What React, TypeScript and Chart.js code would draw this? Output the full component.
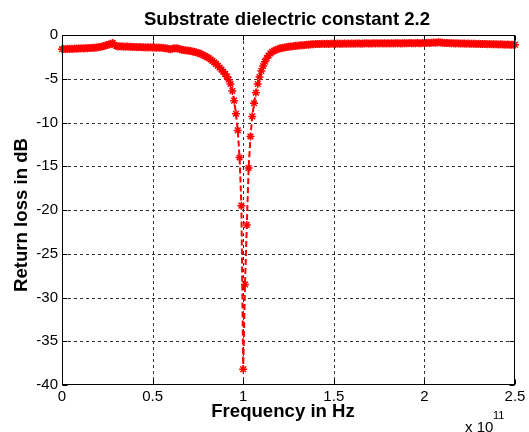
import React, { useEffect, useRef } from "react";
import { Chart, registerables } from "chart.js";

Chart.register(...registerables);

// Frequency sampling (GHz): start and step of the sweep
const FREQ_START_GHZ = 0;
const FREQ_STEP_GHZ = 1;

// Return loss in dB, one value per sample (0 .. 250 GHz)
const returnLossDb: number[] = [
  -1.62, -1.60, -1.63, -1.58, -1.61, -1.57, -1.59, -1.55, -1.57, -1.53,
  -1.55, -1.52, -1.54, -1.50, -1.51, -1.48, -1.49, -1.46, -1.47, -1.43,
  -1.41, -1.37, -1.32, -1.27, -1.21, -1.15, -1.08, -1.00, -0.90, -1.12,
  -1.26, -1.30, -1.28, -1.32, -1.30, -1.34, -1.32, -1.35, -1.33, -1.36,
  -1.38, -1.36, -1.40, -1.38, -1.41, -1.39, -1.42, -1.40, -1.43, -1.41,
  -1.44, -1.42, -1.45, -1.43, -1.46, -1.45, -1.48, -1.50, -1.55, -1.60,
  -1.63, -1.58, -1.52, -1.50, -1.55, -1.62, -1.68, -1.72, -1.75, -1.78,
  -1.80, -1.84, -1.88, -1.92, -1.98, -2.05, -2.12, -2.20, -2.30, -2.40,
  -2.52, -2.65, -2.80, -2.95, -3.12, -3.30, -3.50, -3.72, -3.95, -4.20,
  -4.45, -4.75, -5.10, -5.60, -6.40, -7.50, -9.00, -10.9, -14.0, -19.5,
  -38.2, -28.5, -21.7, -15.2, -11.6, -9.30, -7.80, -6.60, -5.60, -4.80,
  -4.10, -3.55, -3.05, -2.65, -2.35, -2.10, -1.92, -1.80, -1.70, -1.62,
  -1.55, -1.50, -1.45, -1.42, -1.38, -1.35, -1.32, -1.30, -1.26, -1.24,
  -1.22, -1.20, -1.18, -1.16, -1.14, -1.12, -1.10, -1.08, -1.06, -1.05,
  -1.03, -1.04, -1.02, -1.03, -1.01, -1.02, -1.00, -1.02, -0.99, -1.01,
  -1.00, -1.02, -0.98, -1.00, -0.99, -1.01, -0.97, -0.99, -0.98, -1.00,
  -0.97, -0.99, -0.96, -0.98, -0.97, -0.99, -0.96, -0.98, -0.95, -0.97,
  -0.96, -0.98, -0.95, -0.97, -0.94, -0.96, -0.95, -0.97, -0.94, -0.96,
  -0.95, -0.96, -0.94, -0.96, -0.93, -0.95, -0.94, -0.96, -0.93, -0.95,
  -0.94, -0.95, -0.92, -0.94, -0.93, -0.95, -0.92, -0.94, -0.93, -0.92,
  -0.90, -0.92, -0.89, -0.91, -0.88, -0.86, -0.89, -0.85, -0.83, -0.86,
  -0.88, -0.90, -0.92, -0.91, -0.93, -0.95, -0.94, -0.96, -0.95, -0.97,
  -0.96, -0.98, -0.97, -0.99, -0.98, -1.00, -0.99, -1.01, -1.00, -1.02,
  -1.01, -1.03, -1.02, -1.04, -1.03, -1.05, -1.04, -1.06, -1.05, -1.07,
  -1.06, -1.08, -1.07, -1.09, -1.08, -1.10, -1.09, -1.11, -1.10, -1.12,
  -1.10,
];

// Axis ticks (x in units of 1e11 Hz)
const xTicks = [0, 0.5, 1, 1.5, 2, 2.5];
const yTicks = [0, -5, -10, -15, -20, -25, -30, -35, -40];

const TITLE = "Substrate dielectric constant 2.2";
const X_LABEL = "Frequency in Hz";
const Y_LABEL = "Return loss in dB";
const X_EXP_BASE = "x 10";
const X_EXP_POWER = "11";

export default function App() {
  const canvasRef = useRef<HTMLCanvasElement | null>(null);

  useEffect(() => {
    if (!canvasRef.current) return;
    const points = returnLossDb.map((v, i) => ({
      x: (FREQ_START_GHZ + i * FREQ_STEP_GHZ) / 100,
      y: v,
    }));

    const decor = {
      id: "matlabDecor",
      beforeDatasetsDraw(chart: any) {
        const { ctx, chartArea: a, scales } = chart;
        ctx.save();
        ctx.strokeStyle = "#333";
        ctx.lineWidth = 1;
        ctx.setLineDash([3, 3]);
        for (const t of xTicks) {
          if (t === xTicks[0] || t === xTicks[xTicks.length - 1]) continue;
          const px = Math.round(scales.x.getPixelForValue(t)) + 0.5;
          ctx.beginPath();
          ctx.moveTo(px, a.top);
          ctx.lineTo(px, a.bottom);
          ctx.stroke();
        }
        for (const t of yTicks) {
          if (t === yTicks[0] || t === yTicks[yTicks.length - 1]) continue;
          const py = Math.round(scales.y.getPixelForValue(t)) + 0.5;
          ctx.beginPath();
          ctx.moveTo(a.left, py);
          ctx.lineTo(a.right, py);
          ctx.stroke();
        }
        ctx.restore();
      },
      afterDraw(chart: any) {
        const { ctx, chartArea: a, scales } = chart;
        ctx.save();
        ctx.setLineDash([]);
        ctx.strokeStyle = "#000";
        ctx.lineWidth = 1;
        const L = Math.round(a.left) + 0.5;
        const R = Math.round(a.right) - 0.5;
        const T = Math.round(a.top) + 0.5;
        const B = Math.round(a.bottom) - 0.5;
        ctx.strokeRect(L, T, R - L, B - T);
        const tl = 5;
        for (const t of xTicks) {
          const px = Math.round(scales.x.getPixelForValue(t)) + 0.5;
          ctx.beginPath();
          ctx.moveTo(px, B);
          ctx.lineTo(px, B - tl);
          ctx.moveTo(px, T);
          ctx.lineTo(px, T + tl);
          ctx.stroke();
        }
        for (const t of yTicks) {
          const py = Math.round(scales.y.getPixelForValue(t)) + 0.5;
          ctx.beginPath();
          ctx.moveTo(L, py);
          ctx.lineTo(L + tl, py);
          ctx.moveTo(R, py);
          ctx.lineTo(R - tl, py);
          ctx.stroke();
        }

        ctx.fillStyle = "#000";
        ctx.textAlign = "center";
        ctx.textBaseline = "alphabetic";
        ctx.font = "bold 18.6px Arial, 'Liberation Sans', sans-serif";
        ctx.fillText(TITLE, 287, 25);
        ctx.fillText(X_LABEL, 283, 417);

        ctx.save();
        ctx.translate(27, 215);
        ctx.rotate(-Math.PI / 2);
        ctx.fillText(Y_LABEL, 0, 0);
        ctx.restore();

        ctx.textAlign = "left";
        ctx.font = "15px Arial, 'Liberation Sans', sans-serif";
        ctx.fillText(X_EXP_BASE, 465, 432);
        ctx.font = "11px Arial, 'Liberation Sans', sans-serif";
        ctx.fillText(X_EXP_POWER, 493, 419);
        ctx.restore();
      },
    };

    const chart = new Chart(canvasRef.current, {
      type: "line",
      data: {
        datasets: [
          {
            data: points,
            borderColor: "#ff0000",
            backgroundColor: "#ff0000",
            borderWidth: 2,
            borderDash: [6, 3],
            pointStyle: "star",
            pointRadius: 4,
            pointBorderWidth: 1.5,
            pointBorderColor: "#ff0000",
            pointBackgroundColor: "#ff0000",
            tension: 0,
            fill: false,
            clip: false as any,
          },
        ],
      },
      options: {
        responsive: false,
        animation: false,
        events: [],
        layout: { padding: { top: 35, right: 14, bottom: 0, left: 0 } },
        plugins: {
          legend: { display: false },
          title: { display: false },
          tooltip: { enabled: false },
        },
        scales: {
          x: {
            type: "linear",
            min: 0,
            max: 2.5,
            afterFit: (s: any) => {
              s.height = 47;
            },
            afterBuildTicks: (s: any) => {
              s.ticks = xTicks.map((v) => ({ value: v }));
            },
            grid: { display: false, drawTicks: false },
            border: { display: false },
            ticks: {
              padding: 3,
              color: "#000",
              maxRotation: 0,
              autoSkip: false,
              font: { family: "Arial, 'Liberation Sans', sans-serif", size: 15 },
              callback: (v: any) => String(v),
            },
          },
          y: {
            type: "linear",
            min: -40,
            max: 0,
            afterFit: (s: any) => {
              s.width = 62;
            },
            afterBuildTicks: (s: any) => {
              s.ticks = yTicks.map((v) => ({ value: v }));
            },
            grid: { display: false, drawTicks: false },
            border: { display: false },
            ticks: {
              padding: 4,
              color: "#000",
              autoSkip: false,
              font: { family: "Arial, 'Liberation Sans', sans-serif", size: 15 },
              callback: (v: any) => String(v),
            },
          },
        },
      },
      plugins: [decor],
    });
    return () => chart.destroy();
  }, []);

  return (
    <div style={{ position: "absolute", left: 0, top: 0, width: 529, height: 432, background: "#fff" }}>
      <canvas ref={canvasRef} width={529} height={432} style={{ display: "block" }} />
    </div>
  );
}
